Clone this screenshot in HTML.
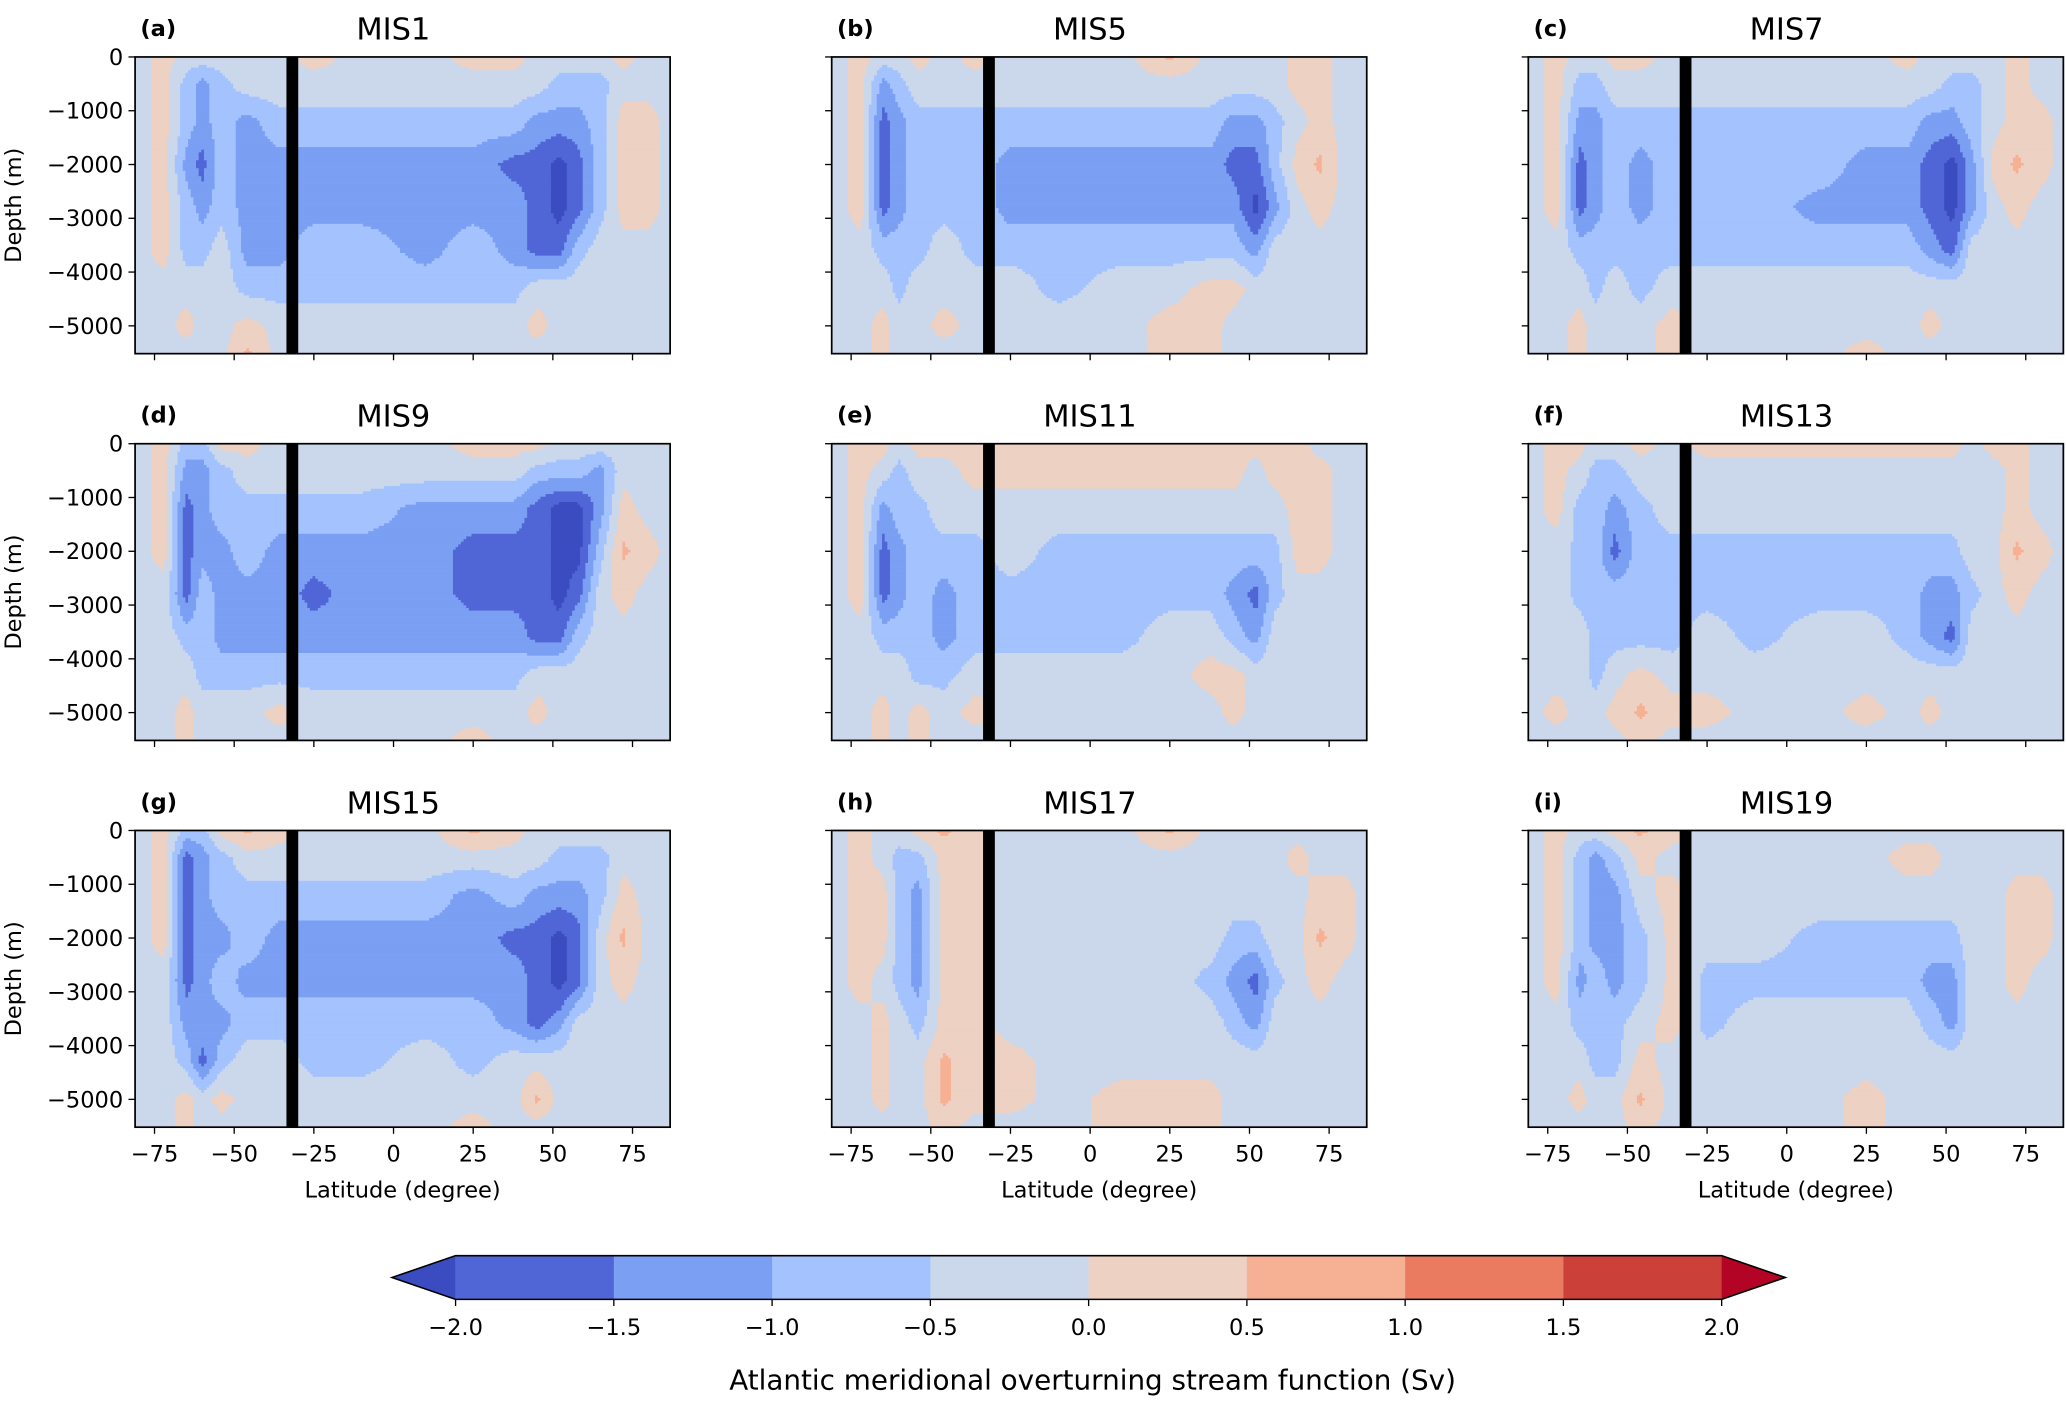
<!DOCTYPE html>
<html><head><meta charset="utf-8">
<style>
html,body{margin:0;padding:0;background:#fff;}
svg{display:block;font-family:"DejaVu Sans","Liberation Sans",sans-serif;}
</style></head>
<body>
<svg id="fig" width="2066" height="1404" viewBox="0 0 1560 1060" preserveAspectRatio="none" xmlns="http://www.w3.org/2000/svg"></svg>
<script>
const lats = [-81,-72,-65,-60,-54,-46,-36,-25,-10,10,25,38,45,52,58,65,72,80,87];
const depths = [0,500,1200,2000,2800,3600,4300,5000,5500];
const titles = ["MIS1","MIS5","MIS7","MIS9","MIS11","MIS13","MIS15","MIS17","MIS19"];
const letters = ["(a)","(b)","(c)","(d)","(e)","(f)","(g)","(h)","(i)"];
const levels = [-2,-1.5,-1,-0.5,0,0.5,1,1.5,2];
const levelColors = ["#3b4cc0","#5166d6","#7b9ff2","#a3c2fe","#cbd8ec","#edd1c2","#f6b093","#ea7b60","#cc403a","#b40426"];
const xTicks = [-75,-50,-25,0,25,50,75];
const yTicks = [0,-1000,-2000,-3000,-4000,-5000];
const cbTicks = ["\u22122.0","\u22121.5","\u22121.0","\u22120.5","0.0","0.5","1.0","1.5","2.0"];

const mis1 = [
[-.2,.2,-.2,-.2,-.2,-.2,-.2,.2,-.2,-.2,.2,.2,-.2,-.2,-.2,-.2,.2,-.2,-.2],
[-.2,.2,-.7,-1.2,-.7,-.2,-.2,-.2,-.2,-.2,-.2,-.2,-.2,-.7,-.7,-.7,-.2,-.2,-.2],
[-.2,.2,-.7,-1.2,-.7,-1.2,-.7,-.7,-.7,-.7,-.7,-.7,-1.2,-1.2,-1.2,-.7,.2,.2,-.2],
[-.2,.2,-1.2,-1.7,-.7,-1.2,-1.2,-1.2,-1.2,-1.2,-1.2,-1.7,-1.7,-2.2,-1.7,-.7,.2,.2,-.2],
[-.2,.2,-.7,-1.2,-.7,-1.2,-1.2,-1.2,-1.2,-1.2,-1.2,-1.2,-1.7,-2.2,-1.7,-.7,.2,.2,-.2],
[-.2,.2,-.7,-.7,-.2,-1.2,-1.2,-.7,-.7,-1.2,-.7,-1.2,-1.7,-1.7,-.7,-.2,-.2,-.2,-.2],
[-.2,-.2,-.2,-.2,-.2,-.7,-.7,-.7,-.7,-.7,-.7,-.7,-.2,-.2,-.2,-.2,-.2,-.2,-.2],
[-.2,-.2,.2,-.2,-.2,.2,-.2,-.2,-.2,-.2,-.2,-.2,.2,-.2,-.2,-.2,-.2,-.2,-.2],
[-.2,-.2,-.2,-.2,-.2,.6,-.2,-.2,-.2,-.2,-.2,-.2,-.2,-.2,-.2,-.2,-.2,-.2,-.2]];
const mis5 = [
[-.2,.2,-.2,-.2,.2,-.2,.2,-.2,-.2,-.2,.6,-.2,-.2,-.2,-.2,.2,.2,-.2,-.2],
[-.2,.2,-1.2,-.7,-.2,-.2,-.2,-.2,-.2,-.2,-.2,-.2,-.2,-.2,-.2,.2,.2,-.2,-.2],
[-.2,.2,-1.7,-1.2,-.7,-.7,-.7,-.7,-.7,-.7,-.7,-.7,-1.2,-1.2,-.7,-.2,.2,-.2,-.2],
[-.2,.2,-1.7,-1.2,-.7,-.7,-.7,-1.2,-1.2,-1.2,-1.2,-1.2,-1.7,-1.7,-.7,.2,.6,-.2,-.2],
[-.2,.2,-1.7,-1.2,-.7,-.7,-.7,-1.2,-1.2,-1.2,-1.2,-1.2,-1.2,-2.2,-1.2,-.2,.2,-.2,-.2],
[-.2,-.2,-.7,-.7,-.7,-.2,-.7,-.7,-.7,-.7,-.7,-.7,-.7,-1.2,-.2,-.2,-.2,-.2,-.2],
[-.2,-.2,-.2,-.7,-.2,-.2,-.2,-.2,-.7,-.2,-.2,.2,.2,-.2,-.2,-.2,-.2,-.2,-.2],
[-.2,-.2,.2,-.2,-.2,.2,-.2,-.2,-.2,-.2,.2,.2,-.2,-.2,-.2,-.2,-.2,-.2,-.2],
[-.2,-.2,.2,-.2,-.2,-.2,-.2,-.2,-.2,-.2,.2,.2,-.2,-.2,-.2,-.2,-.2,-.2,-.2]];
const mis7 = [
[-.2,.2,-.2,-.2,.2,.2,-.2,-.2,-.2,-.2,-.2,.2,-.2,-.2,-.2,-.2,.2,-.2,-.2],
[-.2,.2,-.7,-.7,-.2,-.2,-.2,-.2,-.2,-.2,-.2,-.2,-.2,-.7,-.7,-.2,.2,-.2,-.2],
[-.2,.2,-1.2,-1.2,-.7,-.7,-.7,-.7,-.7,-.7,-.7,-.7,-1.2,-1.2,-.7,-.2,.2,.2,-.2],
[-.2,.2,-1.7,-1.2,-.7,-1.2,-.7,-.7,-.7,-.7,-1.2,-1.2,-1.7,-2.2,-1.2,.2,.6,.2,-.2],
[-.2,.2,-1.7,-1.2,-.7,-1.2,-.7,-.7,-.7,-1.2,-1.2,-1.2,-1.7,-2.2,-1.2,-.2,.2,-.2,-.2],
[-.2,-.2,-.7,-.7,-.7,-.7,-.7,-.7,-.7,-.7,-.7,-.7,-1.2,-1.7,-.2,-.2,-.2,-.2,-.2],
[-.2,-.2,-.2,-.7,-.2,-.7,-.2,-.2,-.2,-.2,-.2,-.2,-.2,-.2,-.2,-.2,-.2,-.2,-.2],
[-.2,-.2,.2,-.2,-.2,-.2,.2,-.2,-.2,-.2,-.2,-.2,.2,-.2,-.2,-.2,-.2,-.2,-.2],
[-.2,-.2,.2,-.2,-.2,-.2,.2,-.2,-.2,-.2,.2,-.2,-.2,-.2,-.2,-.2,-.2,-.2,-.2]];
const mis9 = [
[-.2,.2,-.7,-.7,.2,.2,-.2,-.2,-.2,-.2,.2,.2,.2,-.2,-.2,-.2,-.2,-.2,-.2],
[-.2,.2,-1.2,-1.2,-.7,-.2,-.2,-.2,-.2,-.2,-.2,-.2,-.7,-.7,-.7,-1.2,-.2,-.2,-.2],
[-.2,.2,-1.7,-1.2,-.7,-.7,-.7,-.7,-.7,-1.2,-1.2,-1.2,-1.7,-2.2,-2.2,-1.2,.2,-.2,-.2],
[-.2,.2,-1.7,-1.2,-1.2,-.7,-1.2,-1.2,-1.2,-1.2,-1.7,-1.7,-1.7,-2.2,-2.2,-.7,.6,.2,-.2],
[-.2,-.2,-1.7,-.7,-1.2,-1.2,-1.2,-1.7,-1.2,-1.2,-1.7,-1.7,-1.7,-2.2,-1.7,-.2,.2,-.2,-.2],
[-.2,-.2,-.7,-.7,-1.2,-1.2,-1.2,-1.2,-1.2,-1.2,-1.2,-1.2,-1.7,-1.7,-.7,-.2,-.2,-.2,-.2],
[-.2,-.2,-.2,-.7,-.7,-.7,-.7,-.7,-.7,-.7,-.7,-.7,-.2,-.2,-.2,-.2,-.2,-.2,-.2],
[-.2,-.2,.2,-.2,-.2,-.2,.2,-.2,-.2,-.2,-.2,-.2,.2,-.2,-.2,-.2,-.2,-.2,-.2],
[-.2,-.2,.2,-.2,-.2,-.2,-.2,-.2,-.2,-.2,.2,-.2,-.2,-.2,-.2,-.2,-.2,-.2,-.2]];
const mis11 = [
[-.2,.2,.2,-.2,.2,.2,.2,.2,.2,.2,.2,.2,.2,.2,.2,.2,-.2,-.2,-.2],
[-.2,.2,-.2,-.7,-.2,-.2,.2,.2,.2,.2,.2,.2,.2,-.2,.2,.2,.2,-.2,-.2],
[-.2,.2,-1.2,-.7,-.7,-.2,-.2,-.2,-.2,-.2,-.2,-.2,-.2,-.2,-.2,.2,.2,-.2,-.2],
[-.2,.2,-1.7,-1.2,-.7,-.7,-.7,-.2,-.7,-.7,-.7,-.7,-.7,-.7,-.7,.2,.2,-.2,-.2],
[-.2,.2,-1.7,-1.2,-.7,-1.2,-.7,-.7,-.7,-.7,-.7,-.7,-1.2,-1.7,-.7,-.2,-.2,-.2,-.2],
[-.2,-.2,-.7,-.7,-.7,-1.2,-.7,-.7,-.7,-.7,-.2,-.2,-.7,-1.2,-.2,-.2,-.2,-.2,-.2],
[-.2,-.2,-.2,-.2,-.7,-.7,-.2,-.2,-.2,-.2,-.2,.2,.2,-.2,-.2,-.2,-.2,-.2,-.2],
[-.2,-.2,.2,-.2,.2,-.2,.2,-.2,-.2,-.2,-.2,-.2,.2,-.2,-.2,-.2,-.2,-.2,-.2],
[-.2,-.2,.2,-.2,.2,-.2,-.2,-.2,-.2,-.2,-.2,-.2,-.2,-.2,-.2,-.2,-.2,-.2,-.2]];
const mis13 = [
[-.2,.2,.2,-.2,-.2,.2,-.2,.2,.2,.2,.2,.2,.2,.2,-.2,.2,.2,-.2,-.2],
[-.2,.2,-.2,-.7,-.7,-.2,-.2,-.2,-.2,-.2,-.2,-.2,-.2,-.2,-.2,-.2,.2,-.2,-.2],
[-.2,.2,-.7,-.7,-1.2,-.7,-.2,-.2,-.2,-.2,-.2,-.2,-.2,-.2,-.2,-.2,.2,-.2,-.2],
[-.2,-.2,-.7,-.7,-1.7,-.7,-.7,-.7,-.7,-.7,-.7,-.7,-.7,-.7,-.2,-.2,.6,.2,-.2],
[-.2,-.2,-.7,-.7,-.7,-.7,-.7,-.7,-.7,-.7,-.7,-.7,-1.2,-1.2,-.7,-.2,.2,-.2,-.2],
[-.2,-.2,-.2,-.7,-.7,-.7,-.7,-.2,-.7,-.2,-.2,-.7,-1.2,-1.7,-.2,-.2,-.2,-.2,-.2],
[-.2,-.2,-.2,-.7,-.2,.2,-.2,-.2,-.2,-.2,-.2,-.2,-.2,-.2,-.2,-.2,-.2,-.2,-.2],
[-.2,.2,-.2,-.2,.2,.6,.2,.2,-.2,-.2,.2,-.2,.2,-.2,-.2,-.2,-.2,-.2,-.2],
[-.2,-.2,-.2,-.2,-.2,.2,-.2,-.2,-.2,-.2,-.2,-.2,-.2,-.2,-.2,-.2,-.2,-.2,-.2]];
const mis15 = [
[-.2,.2,-.7,-.7,.2,.6,.2,-.2,-.2,-.2,.6,.2,-.2,-.2,-.2,-.2,-.2,-.2,-.2],
[-.2,.2,-1.7,-1.2,-.7,-.2,-.2,-.2,-.2,-.2,-.2,-.2,-.2,-.7,-.7,-.7,-.2,-.2,-.2],
[-.2,.2,-1.7,-1.2,-.7,-.7,-.7,-.7,-.7,-.7,-1.2,-.7,-1.2,-1.2,-1.2,-.7,.2,-.2,-.2],
[-.2,.2,-1.7,-1.2,-1.2,-.7,-1.2,-1.2,-1.2,-1.2,-1.2,-1.7,-1.7,-2.2,-1.7,-.2,.6,-.2,-.2],
[-.2,-.2,-1.7,-1.2,-.7,-1.2,-1.2,-1.2,-1.2,-1.2,-1.2,-1.2,-1.7,-2.2,-1.7,-.2,.2,-.2,-.2],
[-.2,-.2,-1.2,-1.2,-1.2,-.7,-.7,-.7,-.7,-.7,-.7,-1.2,-1.7,-1.2,-.2,-.2,-.2,-.2,-.2],
[-.2,-.2,-.7,-1.7,-.7,-.2,-.2,-.7,-.7,-.2,-.7,-.2,-.2,-.2,-.2,-.2,-.2,-.2,-.2],
[-.2,-.2,.2,-.2,.2,-.2,-.2,-.2,-.2,-.2,-.2,-.2,.6,-.2,-.2,-.2,-.2,-.2,-.2],
[-.2,-.2,.2,-.2,-.2,-.2,-.2,-.2,-.2,-.2,.2,-.2,-.2,-.2,-.2,-.2,-.2,-.2,-.2]];
const mis17 = [
[-.2,.2,-.2,-.2,.2,.6,.2,-.2,-.2,-.2,.6,-.2,-.2,-.2,-.2,-.2,-.2,-.2,-.2],
[-.2,.2,-.2,-.7,-.7,.2,.2,-.2,-.2,-.2,-.2,-.2,-.2,-.2,-.2,.2,-.2,-.2,-.2],
[-.2,.2,.2,-.7,-1.2,.2,.2,-.2,-.2,-.2,-.2,-.2,-.2,-.2,-.2,-.2,.2,.2,-.2],
[-.2,.2,.2,-.7,-1.2,.2,.2,-.2,-.2,-.2,-.2,-.2,-.7,-.7,-.2,-.2,.6,.2,-.2],
[-.2,.2,-.2,-.7,-1.2,.2,.2,-.2,-.2,-.2,-.2,-.7,-1.2,-1.7,-.7,-.2,.2,-.2,-.2],
[-.2,-.2,.2,-.2,-.7,.2,.2,-.2,-.2,-.2,-.2,-.2,-.7,-1.2,-.2,-.2,-.2,-.2,-.2],
[-.2,-.2,.2,-.2,-.2,.6,.2,.2,-.2,-.2,-.2,-.2,-.2,-.2,-.2,-.2,-.2,-.2,-.2],
[-.2,-.2,.2,-.2,-.2,.6,.2,.2,-.2,.2,.2,.2,-.2,-.2,-.2,-.2,-.2,-.2,-.2],
[-.2,-.2,-.2,-.2,-.2,.2,-.2,-.2,-.2,.2,.2,.2,-.2,-.2,-.2,-.2,-.2,-.2,-.2]];
const mis19 = [
[-.2,.2,-.2,-.2,.2,.6,.2,-.2,-.2,-.2,-.2,-.2,-.2,-.2,-.2,-.2,-.2,-.2,-.2],
[-.2,.2,-.7,-1.2,-.7,.2,-.2,-.2,-.2,-.2,-.2,.2,.2,-.2,-.2,-.2,-.2,-.2,-.2],
[-.2,.2,-.7,-1.2,-1.2,-.2,.2,-.2,-.2,-.2,-.2,-.2,-.2,-.2,-.2,-.2,.2,.2,-.2],
[-.2,.2,-.7,-1.2,-1.2,-.7,.2,-.2,-.2,-.7,-.7,-.7,-.7,-.7,-.2,-.2,.2,.2,-.2],
[-.2,.2,-1.2,-.7,-1.2,-.7,.2,-.7,-.7,-.7,-.7,-.7,-1.2,-1.2,-.2,-.2,.2,-.2,-.2],
[-.2,-.2,-.7,-.7,-.7,-.2,.2,-.7,-.2,-.2,-.2,-.2,-.7,-1.2,-.2,-.2,-.2,-.2,-.2],
[-.2,-.2,-.2,-.7,-.7,.2,-.2,-.2,-.2,-.2,-.2,-.2,-.2,-.2,-.2,-.2,-.2,-.2,-.2],
[-.2,-.2,.2,-.2,-.2,.6,-.2,-.2,-.2,-.2,.2,-.2,-.2,-.2,-.2,-.2,-.2,-.2,-.2],
[-.2,-.2,-.2,-.2,-.2,.2,-.2,-.2,-.2,-.2,.2,-.2,-.2,-.2,-.2,-.2,-.2,-.2,-.2]];
const fields = [mis1,mis5,mis7,mis9,mis11,mis13,mis15,mis17,mis19];

const NS = "http://www.w3.org/2000/svg";
const fig = document.getElementById("fig");
function mk(tag, attrs, parent, text){
  const e = document.createElementNS(NS, tag);
  for (const k in attrs) e.setAttribute(k, attrs[k]);
  if (text !== undefined) e.textContent = text;
  (parent||fig).appendChild(e);
  return e;
}
const PW = 404, PH = 224;
const colX = [102, 628, 1154];
const rowY = [43, 335, 627];
const LAT0 = -81.1, LAT1 = 86.8, DEP1 = 5517;
function colorFor(v){
  let i = 0;
  while (i < levels.length && v >= levels[i]) i++;
  return levelColors[i];
}
function sample(f, lat, dep){
  let i = 0; while (i < lats.length-2 && lat > lats[i+1]) i++;
  let j = 0; while (j < depths.length-2 && dep > depths[j+1]) j++;
  let tx = (lat - lats[i])/(lats[i+1]-lats[i]); tx = Math.max(0,Math.min(1,tx));
  let ty = (dep - depths[j])/(depths[j+1]-depths[j]); ty = Math.max(0,Math.min(1,ty));
  const a = f[j][i]*(1-tx)+f[j][i+1]*tx;
  const b = f[j+1][i]*(1-tx)+f[j+1][i+1]*tx;
  return a*(1-ty)+b*ty;
}

fields.forEach((f, p) => {
  const c = p % 3, r = Math.floor(p/3);
  const x0 = colX[c], y0 = rowY[r];
  const xs = lat => x0 + (lat - LAT0)/(LAT1-LAT0)*PW;
  const ys = dep => y0 + dep/DEP1*PH;
  const g = mk("g", {});
  
  
  const cg = mk("g", {}, g);
  
  
  const cs = 2;
  for (let py = 0; py < PH; py += cs) {
    const dep = (py + cs/2)/PH*DEP1;
    let runStart = 0, runColor = null;
    for (let px = 0; px <= PW; px += cs) {
      let col = null;
      if (px < PW) {
        const lat = LAT0 + (px + cs/2)/PW*(LAT1-LAT0);
        col = colorFor(sample(f, lat, dep));
      }
      if (col !== runColor) {
        if (runColor !== null) {
          const rc = mk("rect", {x: x0+runStart, y: y0+py, width: Math.min(px,PW)-runStart+0.6, height: cs+0.6, fill: runColor}, cg);
          
          
        }
        runStart = px; runColor = col;
      }
    }
  }
  const bar = mk("rect", {x: xs(-33.6), y: y0, width: xs(-29.9)-xs(-33.6), height: PH, fill: "#000"}, g);
  
  
  const fr = mk("rect", {x: x0, y: y0, width: PW, height: PH, fill: "none", stroke: "#000", "stroke-width": 1.3}, g);
  
  
  yTicks.forEach(t => {
    const yy = ys(-t);
    mk("line", {x1: x0-5, x2: x0, y1: yy, y2: yy, stroke: "#000", "stroke-width": 1}, g);
    if (c === 0) {
      const tl = mk("text", {x: x0-9, y: yy+6, "text-anchor": "end", "font-size": 17}, g, t === 0 ? "0" : "\u2212" + Math.abs(t));
      
      
    }
  });
  xTicks.forEach(t => {
    const xx = xs(t);
    mk("line", {x1: xx, x2: xx, y1: y0+PH, y2: y0+PH+5, stroke: "#000", "stroke-width": 1}, g);
    if (r === 2) {
      const tl = mk("text", {x: xx, y: y0+PH+26, "text-anchor": "middle", "font-size": 17}, g, t < 0 ? "\u2212" + Math.abs(t) : String(t));
      
      
    }
  });
  if (c === 0) {
    const yl = mk("text", {x: 0, y: 0, transform: `translate(${x0-86},${y0+PH/2}) rotate(-90)`, "text-anchor": "middle", "font-size": 17}, g, "Depth (m)");
    
    
  }
  if (r === 2) {
    const xl = mk("text", {x: x0+PW/2, y: y0+PH+53, "text-anchor": "middle", "font-size": 17}, g, "Latitude (degree)");
    
    
  }
  const tt = mk("text", {x: x0+195, y: y0-13, "text-anchor": "middle", "font-size": 23}, g, titles[p]);
  
  
  const lt = mk("text", {x: x0+4, y: y0-16, "font-size": 17, "font-weight": "bold"}, g, letters[p]);
  
  
});

// colorbar
const cb = mk("g", {});


const cbX0 = 344, cbX1 = 1300, cbY0 = 948, cbY1 = 981;
const cbx = v => cbX0 + (v - levels[0])/(levels[levels.length-1]-levels[0])*(cbX1-cbX0);
for (let k = 0; k < levels.length-1; k++) {
  const s = mk("rect", {x: cbx(levels[k]), y: cbY0, width: cbx(levels[k+1])-cbx(levels[k])+0.5, height: cbY1-cbY0, fill: levelColors[k+1]}, cb);
  
  
}
const tl = mk("polygon", {points: `${cbX0},${cbY0} ${cbX0},${cbY1} 296,${(cbY0+cbY1)/2}`, fill: levelColors[0]}, cb);


const tr = mk("polygon", {points: `${cbX1},${cbY0} ${cbX1},${cbY1} 1348,${(cbY0+cbY1)/2}`, fill: levelColors[levelColors.length-1]}, cb);


mk("polygon", {points: `296,${(cbY0+cbY1)/2} ${cbX0},${cbY0} ${cbX1},${cbY0} 1348,${(cbY0+cbY1)/2} ${cbX1},${cbY1} ${cbX0},${cbY1}`, fill: "none", stroke: "#000", "stroke-width": 1.2}, cb);
levels.forEach((v, k) => {
  const xx = cbx(v);
  mk("line", {x1: xx, x2: xx, y1: cbY1, y2: cbY1+5, stroke: "#000", "stroke-width": 1}, cb);
  const t = mk("text", {x: xx, y: cbY1+27, "text-anchor": "middle", "font-size": 17}, cb, cbTicks[k]);
  
  
});
const cbl = mk("text", {x: 825, y: 1049, "text-anchor": "middle", "font-size": 21}, cb, "Atlantic meridional overturning stream function (Sv)");


</script>
</body></html>
